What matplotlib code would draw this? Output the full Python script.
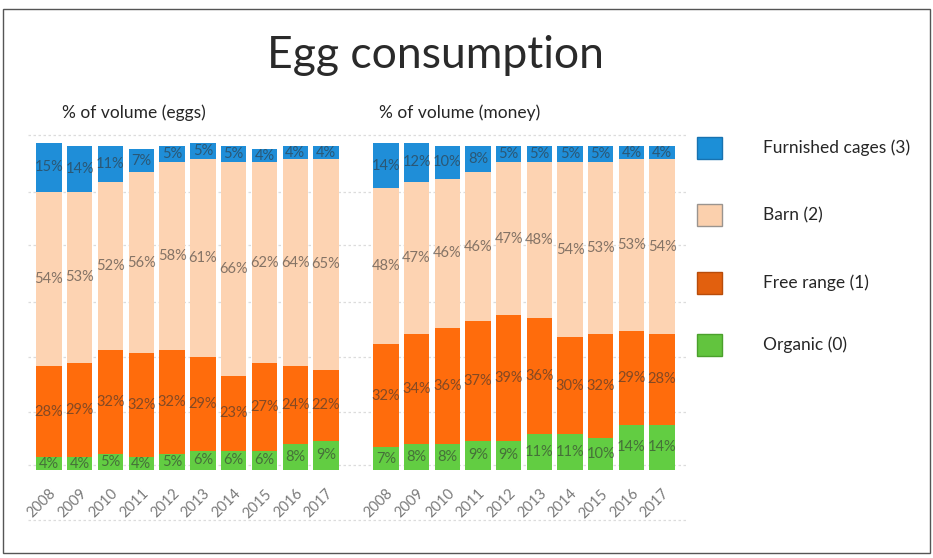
import matplotlib
matplotlib.use("Agg")
import matplotlib.pyplot as plt
from matplotlib.patches import Rectangle
from matplotlib.lines import Line2D
import numpy as np

plt.rcParams['font.family'] = ['Lato', 'DejaVu Sans']

years = ['2008', '2009', '2010', '2011', '2012', '2013', '2014', '2015', '2016', '2017']

# share of eggs bought (by count)
eggs_organic = [4, 4, 5, 4, 5, 6, 6, 6, 8, 9]
eggs_free_range = [28, 29, 32, 32, 32, 29, 23, 27, 24, 22]
eggs_barn = [54, 53, 52, 56, 58, 61, 66, 62, 64, 65]
eggs_cages = [15, 14, 11, 7, 5, 5, 5, 4, 4, 4]

# share of money spent
money_organic = [7, 8, 8, 9, 9, 11, 11, 10, 14, 14]
money_free_range = [32, 34, 36, 37, 39, 36, 30, 32, 29, 28]
money_barn = [48, 47, 46, 46, 47, 48, 54, 53, 53, 54]
money_cages = [14, 12, 10, 8, 5, 5, 5, 5, 4, 4]

series_names = ['Organic (0)', 'Free range (1)', 'Barn (2)', 'Furnished cages (3)']
bar_colors = ['#62cd42', '#ff6c0c', '#fdd3b2', '#1f8ed8']
legend_colors = ['#62c43e', '#e2600e', '#fbd0ad', '#1c8fd7']
legend_edges = ['#4aa02c', '#b84c0a', '#9a948f', '#1872b0']

W, H = 933, 558
fig = plt.figure(figsize=(W / 100, H / 100), dpi=100)


def fx(px):
    return px / W


def fy(py):
    return 1 - py / H


# outer frame
fig.add_artist(Rectangle((fx(3), fy(553)), fx(930) - fx(3), fy(9) - fy(553),
                         transform=fig.transFigure, fill=False,
                         edgecolor='#555555', linewidth=1.0))

# dashed background guide lines
for py in [135, 192, 245, 302, 357, 412, 465, 520]:
    fig.add_artist(Line2D([fx(28), fx(686)], [fy(py), fy(py)],
                          transform=fig.transFigure, color='#dcdcdc',
                          linewidth=0.9, linestyle=(0, (2, 2)), zorder=0))

fig.text(fx(435), fy(55), 'Egg consumption', ha='center', va='center',
         fontsize=32, fontweight='normal', color='#2a2a2a')


def panel(left_px, right_px, title, title_x, data):
    ax = fig.add_axes([fx(left_px), fy(470), fx(right_px) - fx(left_px), fy(143) - fy(470)])
    ax.set_facecolor('none')
    x = np.arange(len(years))
    bottom = np.zeros(len(years))
    for vals, col in zip(data, bar_colors):
        vals = np.array(vals, dtype=float)
        ax.bar(x, vals, bottom=bottom, width=0.82, color=col, linewidth=0, zorder=2)
        for xi, b, v in zip(x, bottom, vals):
            ax.text(xi, b + v / 2, f'{int(v)}%', ha='center', va='center',
                    fontsize=10.5, color='#333333', alpha=0.6, zorder=3)
        bottom += vals
    ax.set_xlim(-0.5, len(years) - 0.5)
    ax.set_ylim(0, 101)
    ax.set_xticks(x)
    ax.set_xticklabels(years, rotation=45, ha='right', rotation_mode='anchor',
                       fontsize=10.5, color='#7a7a7a')
    ax.tick_params(axis='x', length=0, pad=12)
    ax.set_yticks([])
    for s in ax.spines.values():
        s.set_visible(False)
    fig.text(fx(title_x), fy(113), title, ha='left', va='center',
             fontsize=12.5, color='#262626')
    return ax


panel(33.6, 341.4, '% of volume (eggs)', 62,
      [eggs_organic, eggs_free_range, eggs_barn, eggs_cages])
panel(370.6, 677.4, '% of volume (money)', 379,
      [money_organic, money_free_range, money_barn, money_cages])

# legend, top entry first
legend_rows = [148, 215, 283, 345]
for py, name, col, ec in zip(legend_rows, series_names[::-1], legend_colors[::-1], legend_edges[::-1]):
    fig.add_artist(Rectangle((fx(697), fy(py + 11)), fx(722) - fx(697), fy(py - 11) - fy(py + 11),
                             transform=fig.transFigure, facecolor=col,
                             edgecolor=ec, linewidth=1.0))
    fig.text(fx(763), fy(py), name, ha='left', va='center',
             fontsize=12.5, color='#262626')

fig.savefig('out.png', dpi=100, facecolor='white')
